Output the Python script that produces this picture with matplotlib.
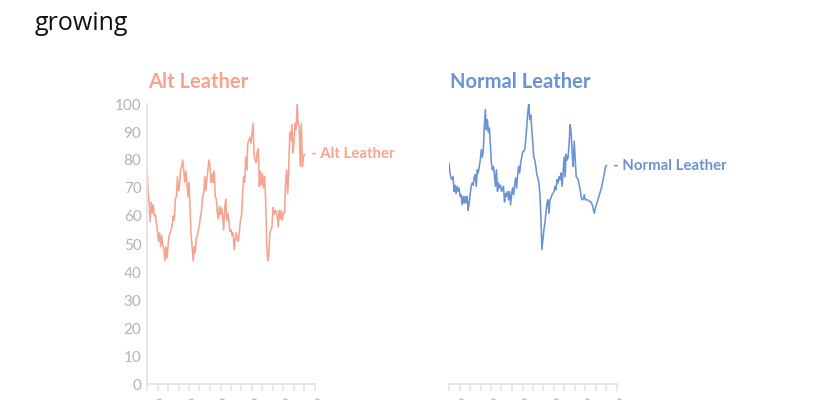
import matplotlib
matplotlib.use("Agg")
import matplotlib.pyplot as plt
import matplotlib.dates as mdates
import pandas as pd
import numpy as np

title = "growing"
series_names = ["Alt Leather", "Normal Leather"]
colors = ["#F6A48F", "#6A93D3"]

alt_leather = [78, 69, 65, 58, 65, 61, 64, 60, 60.5, 57.5, 54, 51, 54, 49, 53, 50, 48, 44, 49, 45,
               49, 53, 54, 55, 57, 60, 58.5, 66, 67, 74, 69, 70.6, 76.5, 77.7, 80, 76.5, 72, 76, 72, 67,
               72, 62, 53, 49, 44, 49, 47, 52, 53, 55, 57, 60, 62, 67, 68, 74, 69, 73, 76.5, 80,
               78, 72, 75, 72, 76, 67, 66, 61, 59, 63.5, 60.5, 63, 60, 55, 63, 66, 58.5, 61, 58.5, 54.5,
               55, 53, 54, 48, 51.5, 54, 51.5, 51, 54.5, 58.5, 60, 67, 74, 72, 81, 76.5, 86, 87, 88, 86,
               89.6, 93, 82, 80, 79, 83, 84, 70.6, 76, 71, 75, 70, 74, 66, 50, 44, 46, 54, 55, 56,
               63, 60.5, 62, 61.6, 60, 56, 62, 59, 62, 58.5, 61, 61, 72, 76.5, 68, 77, 90, 87, 92.6, 82.5,
               86, 93, 91, 100, 92.6, 92, 77.7, 93, 77.7, 81, 82]

normal_leather = [78.7, 75.4, 73.6, 73, 74, 68.8, 71, 68, 70.6, 68.8, 70, 67, 67.6, 64, 67, 64.6, 67, 64.6, 67, 62,
                  64.6, 68, 70.6, 71.8, 71, 74, 74.8, 70.6, 76.5, 75.4, 77.7, 80, 83.7, 81, 83.7, 92, 98, 90.8, 94.4, 90,
                  91.4, 85, 79, 76.5, 77.7, 74.8, 70.6, 76.5, 68.8, 71.8, 70, 71, 68.8, 69.4, 70.6, 65, 68, 67, 68.8, 65.8,
                  68.8, 64, 67.6, 70, 67.6, 71, 73.6, 70, 74.8, 77.7, 75.4, 79, 81, 83, 83, 83.7, 87, 92, 96.8, 100,
                  94.4, 96, 90.8, 86, 81, 80, 77.7, 74.8, 73.6, 71.8, 68, 60, 48, 51.5, 55, 57.5, 61, 64.6, 65.8, 61,
                  65.8, 66.4, 67.6, 68, 68.8, 70.6, 69.4, 73, 71.8, 74, 73, 75.4, 70.6, 75.4, 81, 74, 82, 80, 81, 86,
                  92.6, 89.6, 82.5, 77.7, 86.7, 80, 74, 73.6, 73, 71, 69.4, 66.4, 65.8, 66, 67.6, 65.8, 65.8, 65.8, 65.6, 65.2,
                  65.2, 64.6, 64, 62.3, 61, 62.9, 64, 65.2, 66.4, 67.6, 68.8, 70, 71.8, 73.6, 75.4, 77.7, 78]

data_start = "2015-09-01"
data_end = "2020-09-01"
axis_end = "2021-01-01"
y_ticks = [0, 10, 20, 30, 40, 50, 60, 70, 80, 90, 100]

fig = plt.figure(figsize=(8.4, 4.0), dpi=100)
fig.text(35 / 840, 1 - 23 / 400, title, fontsize=18, family=["Open Sans", "DejaVu Sans"],
         va="center", ha="left", color="#111111")

axes_lefts = [147 / 840, 449 / 840]
axw = 168 / 840
bottom = 16 / 400
height = 280 / 400
grey = "#e3e3e3"
label_grey = "#b3b3b3"
font = ["Lato", "DejaVu Sans"]

for i, (name, vals, col) in enumerate(zip(series_names, [alt_leather, normal_leather], colors)):
    ax = fig.add_axes([axes_lefts[i], bottom, axw, height])
    dates = pd.date_range(data_start, data_end, periods=len(vals))
    ax.plot(dates, vals, color=col, lw=1.15, solid_joinstyle="round")
    ax.set_ylim(0, 100)
    ax.set_xlim(pd.Timestamp(data_start), pd.Timestamp(axis_end))
    for s in ["top", "right"]:
        ax.spines[s].set_visible(False)
    ax.spines["bottom"].set_color(grey)
    ax.spines["bottom"].set_linewidth(1.3)
    locator = mdates.MonthLocator(bymonth=[1, 5, 9])
    ax.xaxis.set_major_locator(locator)
    locs = locator()
    ax.set_xticks(locs)
    ax.set_xticklabels([mdates.num2date(t).strftime("%Y") if mdates.num2date(t).month == 1 else ""
                        for t in locs], rotation=-45, ha="left", rotation_mode="anchor", family=font)
    ax.tick_params(axis="x", length=5, width=1.1, color=grey, labelcolor=label_grey,
                   labelsize=11, pad=4)
    if i == 0:
        ax.spines["left"].set_color(grey)
        ax.spines["left"].set_linewidth(1.3)
        ax.set_yticks(y_ticks)
        ax.tick_params(axis="y", length=0, pad=4, labelcolor=label_grey, labelsize=11)
        for lab in ax.get_yticklabels():
            lab.set_family(font)
    else:
        ax.spines["left"].set_visible(False)
        ax.set_yticks([])
    ax.patch.set_alpha(0)
    ax.text(0.005, 1 + 16 / 280, name, transform=ax.transAxes, fontsize=14.5, fontweight="bold",
            color=col, ha="left", va="baseline", family=font)
    ax.annotate("- " + name, xy=(dates[-1], vals[-1]), xytext=(4.5, 0), textcoords="offset points",
                fontsize=10.8, fontweight="bold", color=col, ha="left", va="center",
                family=font, annotation_clip=False)

fig.savefig("out.png", dpi=100)
